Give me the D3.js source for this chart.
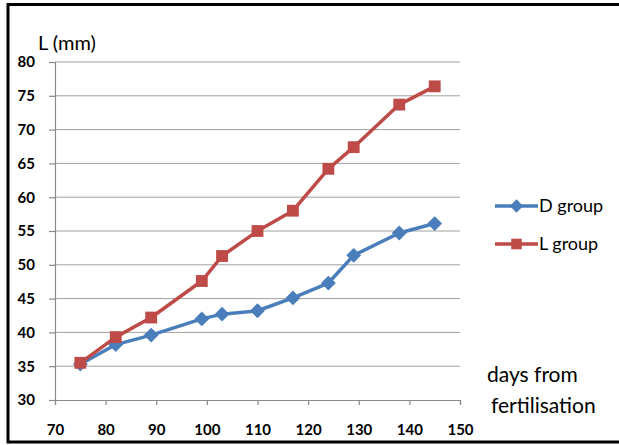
<!DOCTYPE html>
<html>
<head>
<meta charset="utf-8">
<script src="https://cdn.jsdelivr.net/npm/d3@7"></script>
<style>
  html, body { margin: 0; padding: 0; background: #fff; }
  svg { display: block; font-family: Lato, "Open Sans", sans-serif; }
</style>
</head>
<body>
<svg id="chart" width="619" height="445"></svg>
<script>
// ── data ────────────────────────────────────────────
const days   = [75, 82, 89, 99, 103, 110, 117, 124, 129, 138, 145];
const dGroup = [35.3, 38.2, 39.6, 42.0, 42.7, 43.2, 45.1, 47.3, 51.4, 54.7, 56.1];
const lGroup = [35.5, 39.3, 42.2, 47.6, 51.3, 55.0, 58.0, 64.2, 67.4, 73.7, 76.4];
const xTicks = [70, 80, 90, 100, 110, 120, 130, 140, 150];
const yTicks = [30, 35, 40, 45, 50, 55, 60, 65, 70, 75, 80];

// diamonds are squares turned by 45°
const series = [
  { name: 'D group', values: dGroup, color: '#4a7ebb', size: 110, rotate: 45 },
  { name: 'L group', values: lGroup, color: '#be4b48', size: 140, rotate: 0 }
];

// ── layout ──────────────────────────────────────────
const svg = d3.select('#chart');
const x = d3.scaleLinear().domain([70, 150]).range([55, 460]);
const y = d3.scaleLinear().domain([30, 80]).range([400, 62]);

// frame
svg.append('rect')
  .attr('x', 8).attr('y', 4.5)
  .attr('width', 640).attr('height', 437.5)
  .attr('fill', 'none').attr('stroke', '#000').attr('stroke-width', 3);

// gridlines
svg.append('g')
  .selectAll('line')
  .data(yTicks.filter(v => v > 30))
  .join('line')
  .attr('x1', x(70)).attr('x2', x(150))
  .attr('y1', d => y(d)).attr('y2', d => y(d))
  .attr('stroke', '#a0a0a0').attr('stroke-width', 1);

// axes
const yAxis = d3.axisLeft(y).tickValues(yTicks).tickSize(5).tickPadding(14);
const xAxis = d3.axisBottom(x).tickValues(xTicks).tickSize(5).tickPadding(19);

const gy = svg.append('g').attr('transform', `translate(${x(70)},0)`).call(yAxis);
const gx = svg.append('g').attr('transform', `translate(0,${y(30)})`).call(xAxis);

[gx, gy].forEach(g => {
  g.select('.domain').attr('stroke', '#8a8a8a').attr('stroke-width', 1.2);
  g.selectAll('.tick line').attr('stroke', '#8a8a8a').attr('stroke-width', 1.2);
  g.selectAll('.tick text')
    .attr('fill', '#000')
    .style('font-family', 'Lato, "Open Sans", sans-serif')
    .style('font-size', '15px')
    .style('font-weight', 'bold');
});
gy.selectAll('.tick line').attr('x1', -6).attr('x2', 0);
gy.selectAll('.tick text').attr('x', -20);

// lines + markers
const line = d3.line()
  .x((d, i) => x(days[i]))
  .y(d => y(d));

series.forEach(s => {
  svg.append('path')
    .datum(s.values)
    .attr('d', line)
    .attr('fill', 'none')
    .attr('stroke', s.color)
    .attr('stroke-width', 3.5)
    .attr('stroke-linejoin', 'round');

  svg.append('g')
    .selectAll('path')
    .data(s.values)
    .join('path')
    .attr('transform', (d, i) => `translate(${x(days[i])},${y(d)}) rotate(${s.rotate})`)
    .attr('d', d3.symbol().type(d3.symbolSquare).size(s.size))
    .attr('fill', s.color);
});

// legend
const legend = svg.append('g').attr('transform', 'translate(495,206)');
series.forEach((s, i) => {
  const row = legend.append('g').attr('transform', `translate(0,${i * 38})`);
  row.append('line')
    .attr('x1', 0).attr('x2', 43)
    .attr('stroke', s.color).attr('stroke-width', 3.5);
  row.append('path')
    .attr('transform', `translate(21.5,0) rotate(${s.rotate})`)
    .attr('d', d3.symbol().type(d3.symbolSquare).size(s.size * 0.8))
    .attr('fill', s.color);
  row.append('text')
    .attr('x', 44).attr('y', 6)
    .style('font-size', '18px')
    .text(s.name);
});

// axis titles
svg.append('text')
  .attr('x', 38).attr('y', 50)
  .style('font-size', '20px')
  .text('L (mm)');

svg.append('text')
  .attr('x', 487).attr('y', 382)
  .style('font-size', '21px')
  .text('days from');
svg.append('text')
  .attr('x', 491).attr('y', 413)
  .style('font-size', '21px')
  .text('fertilisation');
</script>
</body>
</html>
